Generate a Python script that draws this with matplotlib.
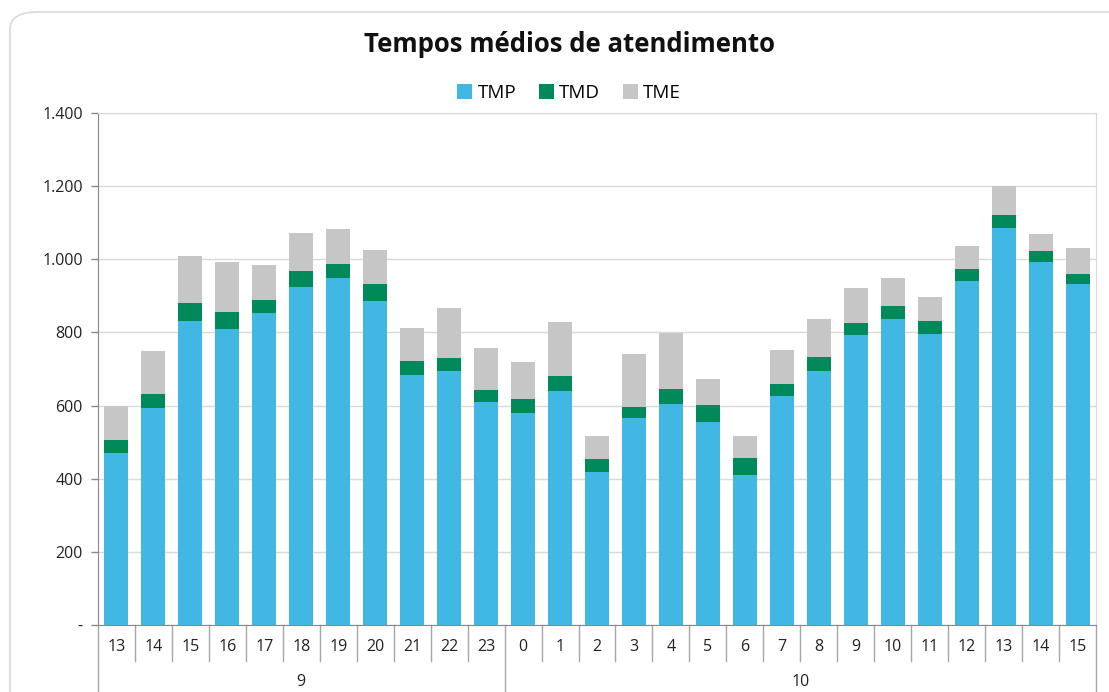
import numpy as np
import matplotlib.pyplot as plt
from matplotlib.patches import FancyBboxPatch
from matplotlib.ticker import FuncFormatter

hours = ["13", "14", "15", "16", "17", "18", "19", "20", "21", "22", "23",
         "0", "1", "2", "3", "4", "5", "6", "7", "8", "9", "10", "11", "12", "13", "14", "15"]
days = ["9", "10"]
day_sizes = [11, 16]

tmp = [470, 593, 831, 810, 852, 925, 950, 887, 684, 695, 610,
       580, 639, 419, 566, 604, 555, 411, 625, 695, 793, 838, 796, 940, 1086, 992, 933]
tmd = [36, 39, 49, 46, 38, 42, 38, 45, 39, 35, 32,
       39, 42, 35, 31, 42, 46, 46, 35, 39, 32, 35, 35, 34, 35, 31, 27]
tme = [94, 116, 129, 136, 95, 105, 95, 94, 90, 136, 116,
       100, 147, 63, 143, 153, 73, 60, 92, 104, 97, 77, 67, 63, 79, 45, 71]

c_tmp = "#41b8e4"
c_tmd = "#00895b"
c_tme = "#c6c6c6"

plt.rcParams['font.family'] = ['Open Sans', 'DejaVu Sans']

fig = plt.figure(figsize=(11.09, 6.92), dpi=100)
W, H = 1109, 692

# outer chart border (runs off the bottom/right edge like the screenshot)
border = FancyBboxPatch((10 / W, -0.5), 1.2, 1.5 - 12 / H, transform=fig.transFigure,
                        boxstyle="round,pad=0,rounding_size=0.025",
                        facecolor="white", edgecolor="#d9d9d9", lw=1.2, zorder=-10)
fig.patches.append(border)

ax = fig.add_axes([98 / W, (H - 625) / H, 998 / W, 512 / H])
ax.patch.set_alpha(0)
x = np.arange(len(hours))
tmp = np.array(tmp)
tmd = np.array(tmd)
tme = np.array(tme)

ax.bar(x, tmp, width=0.65, color=c_tmp, label="TMP", zorder=3)
ax.bar(x, tmd, width=0.65, bottom=tmp, color=c_tmd, label="TMD", zorder=3)
ax.bar(x, tme, width=0.65, bottom=tmp + tmd, color=c_tme, label="TME", zorder=3)

ax.set_xlim(-0.5, len(hours) - 0.5)
ax.set_ylim(0, 1400)
ax.set_yticks(np.arange(0, 1401, 200))


def fmt(v, pos):
    if v == 0:
        return "-"
    return "{:,.0f}".format(v).replace(",", ".")


ax.yaxis.set_major_formatter(FuncFormatter(fmt))
ax.tick_params(axis="y", labelsize=11.5, colors="#888888", labelcolor="#222222",
               length=5, width=1, pad=6)
ax.grid(axis="y", color="#d9d9d9", lw=1, zorder=0)

for s in ["top", "right"]:
    ax.spines[s].set_color("#d9d9d9")
ax.spines["left"].set_color("#888888")
ax.spines["bottom"].set_color("#888888")

# multi-level category axis
ax.set_xticks(x)
ax.set_xticklabels(hours, fontsize=11.5, color="#222222")
ax.tick_params(axis="x", length=0, pad=10)

tr = ax.get_xaxis_transform()
y_sep = -36 / 512
y_bot = -70 / 512
bounds = np.cumsum([0] + day_sizes) - 0.5
for i in range(len(hours) + 1):
    xs = i - 0.5
    if xs in bounds:
        ax.plot([xs, xs], [0, y_bot], transform=tr, color="#a6a6a6", lw=1, clip_on=False)
    else:
        ax.plot([xs, xs], [0, y_sep], transform=tr, color="#a6a6a6", lw=1, clip_on=False)

for d, a, b in zip(days, bounds[:-1], bounds[1:]):
    ax.text((a + b) / 2, -65 / 512, d, transform=tr, ha="center", va="bottom",
            fontsize=11.5, color="#222222", clip_on=False)

fig.text(569 / W, 1 - 44 / H, "Tempos médios de atendimento", ha="center", va="center",
         fontsize=18.5, fontweight="bold", color="#111111")

ax.legend(loc="center", bbox_to_anchor=(569 / W, 1 - 93 / H), bbox_transform=fig.transFigure,
          ncol=3, frameon=False, fontsize=13.5, handlelength=0.8, handleheight=0.8,
          handletextpad=0.3, columnspacing=1.2)

fig.savefig("out.png", dpi=100)
